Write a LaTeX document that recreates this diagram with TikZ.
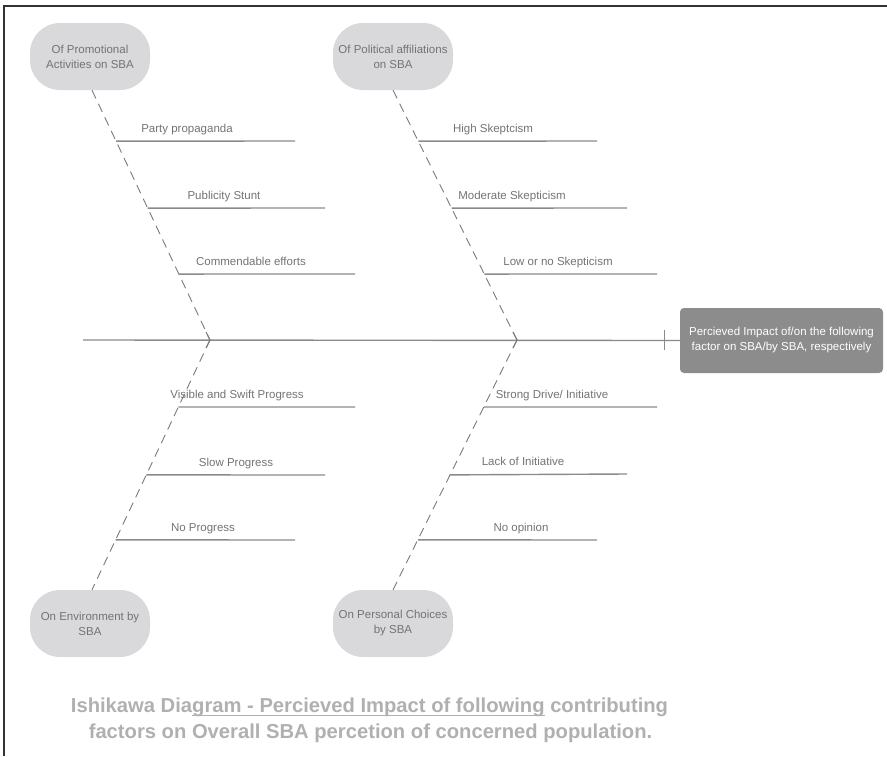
\documentclass[tikz,border=0pt]{standalone}
\usepackage{fontspec}
\setmainfont{Liberation Sans}
\usetikzlibrary{calc}
\definecolor{nodefill}{HTML}{D9D9DB}
\definecolor{headfill}{HTML}{8C8C8C}
\definecolor{linegrey}{HTML}{8A8A8A}
\definecolor{bonegrey}{HTML}{7A7A7A}
\definecolor{txtgrey}{HTML}{737373}
\definecolor{titlegrey}{HTML}{B0B0B0}
\definecolor{framegrey}{HTML}{333333}
\newsavebox\myulbox
\newcommand\myul[1]{\sbox\myulbox{#1}\rlap{\rule[-4pt]{\wd\myulbox}{1.2pt}}\usebox\myulbox}
\begin{document}
\begin{tikzpicture}[x=1pt,y=-1pt,
  cat/.style={fill=nodefill, rounded corners=30pt, minimum width=120pt, minimum height=67pt,
    inner sep=0pt, align=center, text=txtgrey, font=\fontsize{11.5}{15}\selectfont},
  head/.style={fill=headfill, rounded corners=4pt, minimum width=203pt, minimum height=65pt,
    inner sep=0pt, align=center, text=white, font=\fontsize{11.5}{15}\selectfont},
  bone/.style={draw=bonegrey, dash pattern=on 9pt off 6pt, line width=0.9pt},
  sub/.style={draw=linegrey, line width=1.4pt},
  chev/.style={draw=bonegrey, line width=1pt},
  lbl/.style={anchor=base, text=txtgrey, inner sep=0pt, font=\fontsize{11.5}{14}\selectfont},
  ttl/.style={anchor=base, text=titlegrey, inner sep=0pt, font=\fontsize{20.2}{26}\selectfont\bfseries},
  frame/.style={draw=framegrey, line width=2pt}
]
\useasboundingbox (0,0) rectangle (887,756);
% frame
\coordinate (fr0) at (4,756);
\coordinate (fr1) at (4,6);
\coordinate (fr2) at (887,6);
\draw[frame] (fr0) -- (fr1) -- (fr2);

% category nodes
\node[cat] (c1) at (90,56.5) {Of Promotional\\Activities on SBA};
\node[cat] (c2) at (393,56.5) {Of Political affiliations\\on SBA};
\node[cat] (c3) at (90,623.5) {On Environment by\\SBA};
\node[cat] (c4) at (393,623.5) {On Personal Choices\\by SBA};
\node[head] (h) at (781.5,340.5) {Percieved Impact of/on the following\\factor on SBA/by SBA, respectively};

% spine
\coordinate (s0) at (83,340);
\coordinate (tk) at (664,340);
\draw[sub] (s0) -- (h.west);
\draw[sub, line width=1pt] ($(tk)+(0,-10)$) -- ($(tk)+(0,10)$);

% joints
\coordinate (j1) at (210,340);
\coordinate (j2) at (517,340);
\coordinate (c1b) at ($(c1.south)+(2,0)$);
\coordinate (c3t) at ($(c3.north)+(2,0)$);

% bones
\draw[bone] (c1b) -- (j1);
\draw[bone] (j1) -- (c3t);
\draw[bone] (c2.south) -- (j2);
\draw[bone] (j2) -- (c4.north);
\draw[chev] ($(j1)+(-4,-8)$) -- (j1) -- ($(j1)+(-4,8)$);
\draw[chev] ($(j2)+(-4,-8)$) -- (j2) -- ($(j2)+(-4,8)$);

% top-left sub-bones
\coordinate (a1) at ($(c1b)!0.204!(j1)$);
\coordinate (a2) at ($(c1b)!0.472!(j1)$);
\coordinate (a3) at ($(c1b)!0.736!(j1)$);
\coordinate (a1e) at (295,141);
\coordinate (a2e) at (325,208);
\coordinate (a3e) at (355,274);
\draw[sub] (a1) -- (a1e);
\draw[sub] (a2) -- (a2e);
\draw[sub] (a3) -- (a3e);
\node[lbl] (la1) at (187,132) {Party propaganda};
\node[lbl] (la2) at (224,199) {Publicity Stunt};
\node[lbl] (la3) at (251,265) {Commendable efforts};

% top-middle sub-bones
\coordinate (b1) at ($(c2.south)!0.204!(j2)$);
\coordinate (b2) at ($(c2.south)!0.472!(j2)$);
\coordinate (b3) at ($(c2.south)!0.736!(j2)$);
\coordinate (b1e) at (597,141);
\coordinate (b2e) at (627,208);
\coordinate (b3e) at (657,274);
\draw[sub] (b1) -- (b1e);
\draw[sub] (b2) -- (b2e);
\draw[sub] (b3) -- (b3e);
\node[lbl] (lb1) at (493,132) {High Skeptcism};
\node[lbl] (lb2) at (512,199) {Moderate Skepticism};
\node[lbl] (lb3) at (558,265) {Low or no Skepticism};

% bottom-left sub-bones
\coordinate (d1) at ($(j1)!0.268!(c3t)$);
\coordinate (d2) at ($(j1)!0.540!(c3t)$);
\coordinate (d3) at ($(j1)!0.800!(c3t)$);
\coordinate (d1e) at (355,407);
\coordinate (d2e) at (325,475);
\coordinate (d3e) at (295,540);
\draw[sub] (d1) -- (d1e);
\draw[sub] (d2) -- (d2e);
\draw[sub] (d3) -- (d3e);
\node[lbl] (ld1) at (237,398) {Visible and Swift Progress};
\node[lbl] (ld2) at (236,466) {Slow Progress};
\node[lbl] (ld3) at (203,531) {No Progress};

% bottom-middle sub-bones
\coordinate (e1) at ($(j2)!0.268!(c4.north)$);
\coordinate (e2) at ($(j2)!0.540!(c4.north)$);
\coordinate (e3) at ($(j2)!0.800!(c4.north)$);
\coordinate (e1e) at (657,407);
\coordinate (e2e) at (627,474);
\coordinate (e3e) at (597,540);
\draw[sub] (e1) -- (e1e);
\draw[sub] (e2) -- (e2e);
\draw[sub] (e3) -- (e3e);
\node[lbl] (le1) at (552,398) {Strong Drive/ Initiative};
\node[lbl] (le2) at (523,465) {Lack of Initiative};
\node[lbl] (le3) at (521,531) {No opinion};

% title
\node[ttl] (t1) at (369.5,712) {Ishikawa Dia\myul{gram - Percieved Impact of following} contributing};
\node[ttl] (t2) at (370.5,738) {factors on Overall SBA percetion of concerned population.};
\end{tikzpicture}
\end{document}
